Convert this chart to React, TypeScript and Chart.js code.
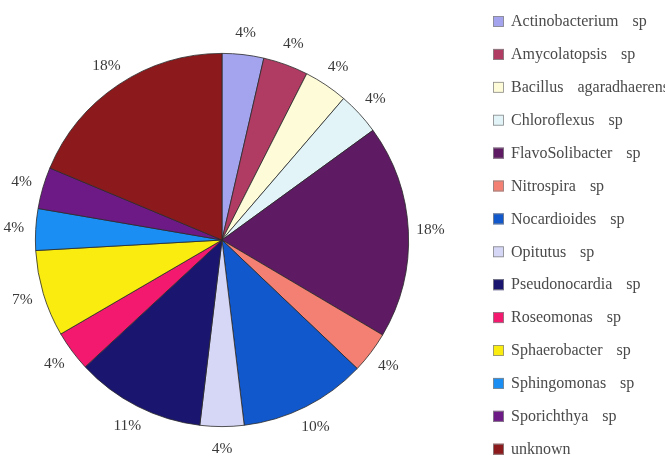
import React, { useEffect, useRef } from "react";
import { Chart, registerables } from "chart.js";

Chart.register(...registerables);

const categories = [
  "Actinobacterium", "Amycolatopsis", "Bacillus", "Chloroflexus", "FlavoSolibacter",
  "Nitrospira", "Nocardioides", "Opitutus", "Pseudonocardia", "Roseomonas",
  "Sphaerobacter", "Sphingomonas", "Sporichthya", "unknown",
];
const suffixes = ["sp", "sp", "agaradhaerens", "sp", "sp", "sp", "sp", "sp", "sp", "sp", "sp", "sp", "sp", ""];
const values = [3.6, 3.9, 3.8, 3.7, 18.5, 3.6, 11.0, 3.8, 11.2, 3.5, 7.5, 3.6, 3.6, 18.7];
const pctLabels = ["4%", "4%", "4%", "4%", "18%", "4%", "10%", "4%", "11%", "4%", "7%", "4%", "4%", "18%"];
const colors = [
  "#a4a4ee", "#b03c64", "#fdfbd8", "#e2f4f8", "#5e1a62", "#f38073", "#1158cc",
  "#d6d6f6", "#1a1670", "#f2196e", "#f9ec0e", "#1a8ef2", "#6e1a86", "#8c1a1c",
];

const FONT = "'Liberation Serif', 'DejaVu Serif', serif";

const overlayPlugin = {
  id: "overlay",
  afterDraw(chart: any) {
    const ctx = chart.ctx;
    const meta = chart.getDatasetMeta(0);
    ctx.save();
    // percentage labels
    ctx.font = `15.5px ${FONT}`;
    ctx.fillStyle = "#3a3a3a";
    ctx.textAlign = "center";
    ctx.textBaseline = "middle";
    meta.data.forEach((arc: any, i: number) => {
      const p = arc.getProps(["x", "y", "startAngle", "endAngle", "outerRadius"], true);
      const mid = (p.startAngle + p.endAngle) / 2;
      const r = p.outerRadius + 22;
      ctx.fillText(pctLabels[i], p.x + Math.cos(mid) * r, p.y + Math.sin(mid) * r);
    });
    // legend
    const x0 = 493;
    const y0 = 22;
    const step = 32.9;
    ctx.textAlign = "left";
    categories.forEach((name: string, i: number) => {
      const y = y0 + i * step;
      ctx.fillStyle = colors[i];
      ctx.fillRect(x0, y - 6, 11, 11);
      ctx.strokeStyle = "#888";
      ctx.lineWidth = 0.8;
      ctx.strokeRect(x0 + 0.5, y - 5.5, 10, 10);
      ctx.fillStyle = "#4a4a4a";
      ctx.font = `16px ${FONT}`;
      ctx.fillText(name, 511, y);
      if (suffixes[i]) {
        const w = ctx.measureText(name).width;
        ctx.fillText(suffixes[i], 511 + w + 14, y);
      }
    });
    ctx.restore();
  },
};

export default function App() {
  const ref = useRef<HTMLCanvasElement>(null);
  useEffect(() => {
    if (!ref.current) return;
    const chart = new Chart(ref.current, {
      type: "pie",
      data: {
        labels: categories,
        datasets: [
          {
            data: values,
            backgroundColor: colors,
            borderColor: "#2a2a2a",
            borderWidth: 0.8,
          },
        ],
      },
      options: {
        responsive: false,
        animation: false,
        layout: { padding: { left: 35, top: 53, right: 256, bottom: 30 } },
        plugins: { legend: { display: false }, tooltip: { enabled: false } },
      },
      plugins: [overlayPlugin],
    });
    return () => chart.destroy();
  }, []);
  return (
    <div style={{ position: "fixed", left: 0, top: 0, width: 665, height: 457, background: "#fff" }}>
      <canvas ref={ref} width={665} height={457} />
    </div>
  );
}
